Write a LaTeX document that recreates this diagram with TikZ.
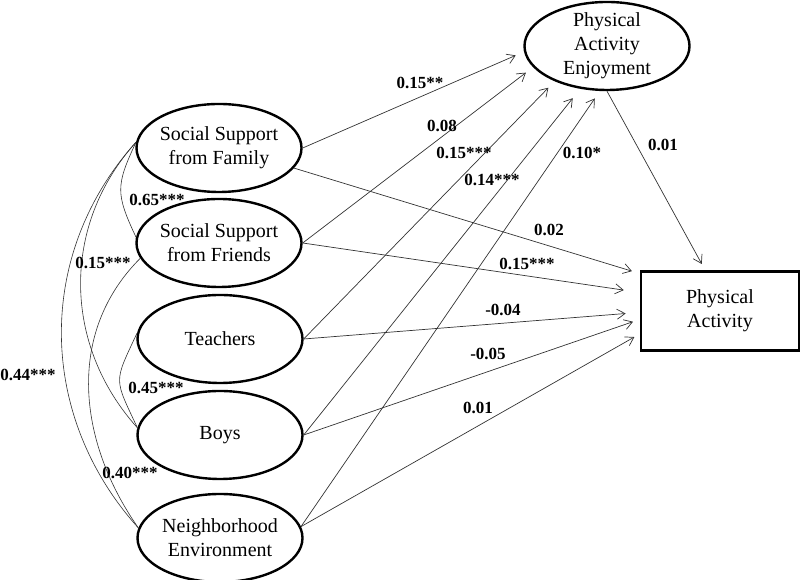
\documentclass[tikz,border=0pt]{standalone}
\usepackage{fontspec}
\setmainfont{Liberation Serif}
\usetikzlibrary{shapes.geometric,arrows.meta}

\tikzset{
  ->/.style={draw=black!80,line width=0.7pt,shorten >=9pt,-{Straight Barb[length=8pt,width=10pt]}},
  cov/.style={draw=black!80,line width=0.6pt},
  latent/.style={ellipse,draw,line width=2.4pt,minimum width=165pt,minimum height=88pt,
    inner xsep=-2pt,inner ysep=0pt,align=center},
  manifest/.style={rectangle,draw,line width=2.8pt,minimum width=158pt,minimum height=79pt,align=center},
  coef/.style={font=\fontsize{17}{20}\selectfont\bfseries,inner sep=0pt}
}
\tikzstyle{every node}=[font=\fontsize{20}{24}\selectfont]

\begin{document}
\begin{tikzpicture}[x=1pt,y=1pt]
    \useasboundingbox (0,0) rectangle (800,580);
    \node[latent] (A) at (219,432) {Social Support\\from Family};
    \node[latent] (B) at (219,337) {Social Support\\from Friends};
    \node[latent] (C) at (220,241) {Teachers};
    \node[latent] (D) at (220,145) {Boys};
    \node[latent] (E) at (220,42) {Neighborhood\\Environment};
    \node[latent,inner ysep=-8pt] (F) at (607,534) {Physical\\Activity\\Enjoyment};
    \node[manifest] (G) at (720,269) {Physical\\Activity};
    % paths to enjoyment
    \draw [->] (A.east) -- (F.184);
    \draw [->] (B.east) -- (F.196);
    \draw [->] (C.east) -- (F.214);
    \draw [->,shorten >=12pt] (D.east) -- (F.238);
    \draw [->] (E.8) -- (F.261);
    % paths to physical activity
    \draw [->,shorten >=7pt] (F.south) -- (G.110);
    \draw [->,shorten >=8pt] (A.345) -- (G.155);
    \draw [->,shorten >=16pt] (B.east) -- (G.167);
    \draw [->,shorten >=14pt] (C.east) -- (G.181);
    \draw [->,shorten >=7pt] (D.east) -- (G.186);
    \draw [->,shorten >=6pt] (E.8) -- (G.196);
    % correlations
    \draw [cov] (A.176) to[out=245,in=115,looseness=1.3] (B.176);
    \draw [cov] (A.176) to[out=228,in=132] (D.175);
    \draw [cov] (A.176) to[out=228,in=132] (E.173);
    \draw [cov] (B.191) to[out=225,in=125] (E.173);
    \draw [cov] (C.176) to[out=245,in=115,looseness=1.5] (D.175);
    % coefficients
    \node[coef] (AF) at (420,497) {0.15**};
    \node[coef] (BF) at (442,454) {0.08};
    \node[coef] (CF) at (464,427) {0.15***};
    \node[coef] (DF) at (492,400) {0.14***};
    \node[coef] (EF) at (582,427) {0.10*};
    \node[coef] (FG) at (663,435) {0.01};
    \node[coef] (AG) at (549,350) {0.02};
    \node[coef] (BG) at (527,316) {0.15***};
    \node[coef] (CG) at (503,270) {-0.04};
    \node[coef] (DG) at (488,226) {-0.05};
    \node[coef] (EG) at (478,172) {0.01};
    \node[coef] (AB) at (157,380) {0.65***};
    \node[coef] (AD) at (103,317) {0.15***};
    \node[coef] (AE) at (28,205) {0.44***};
    \node[coef] (CD) at (156,192) {0.45***};
    \node[coef] (BE) at (130,107) {0.40***};
\end{tikzpicture}
\end{document}
